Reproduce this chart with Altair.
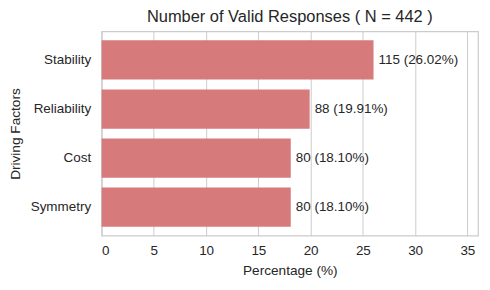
import altair as alt
import pandas as pd

factors = ["Stability", "Reliability", "Cost", "Symmetry"]
counts = [115, 88, 80, 80]
percentages = [26.02, 19.91, 18.10, 18.10]
x_ticks = [0, 5, 10, 15, 20, 25, 30, 35]

df = pd.DataFrame({"factor": factors, "count": counts, "pct": percentages})
df["label"] = [f"{c} ({p:.2f}%)" for c, p in zip(counts, percentages)]

FONT = "Liberation Sans"
TXT = "#262626"
GRID = "#cccccc"

y_enc = alt.Y(
    "factor:N",
    sort=factors,
    scale=alt.Scale(paddingInner=0.2, paddingOuter=0.18),
    axis=alt.Axis(
        title="Driving Factors",
        ticks=False,
        domain=False,
        grid=False,
        labelPadding=11,
        titlePadding=8,
    ),
)
x_enc = alt.X(
    "pct:Q",
    scale=alt.Scale(domain=[0, 36.02], nice=False, zero=True),
    axis=alt.Axis(
        title="Percentage (%)",
        values=x_ticks,
        ticks=False,
        domain=False,
        grid=True,
        gridColor=GRID,
        gridWidth=1,
        labelPadding=8,
        titlePadding=7,
    ),
)

bars = alt.Chart(df).mark_bar(color="#d77a7c").encode(x=x_enc, y=y_enc)
text = alt.Chart(df).mark_text(
    align="left", baseline="middle", dx=5, fontSize=13.5, font=FONT, color=TXT
).encode(x="pct:Q", y=alt.Y("factor:N", sort=factors), text="label:N")

chart = (
    alt.layer(bars, text)
    .properties(
        width=378,
        height=205,
        title=alt.TitleParams(
            "Number of Valid Responses ( N = 442 )",
            fontSize=16.5,
            font=FONT,
            fontWeight="normal",
            color=TXT,
            offset=6,
        ),
        autosize=alt.AutoSizeParams(type="none"),
        padding={"left": 94, "top": 23, "right": 4, "bottom": 52},
    )
    .configure_view(stroke=GRID, strokeWidth=1.25)
    .configure_axis(
        labelFont=FONT,
        titleFont=FONT,
        labelFontSize=13.5,
        titleFontSize=13.7,
        labelColor=TXT,
        titleColor=TXT,
        titleFontWeight="normal",
    )
)

chart.save("out.html", embed_options={"renderer": "svg", "actions": False})
